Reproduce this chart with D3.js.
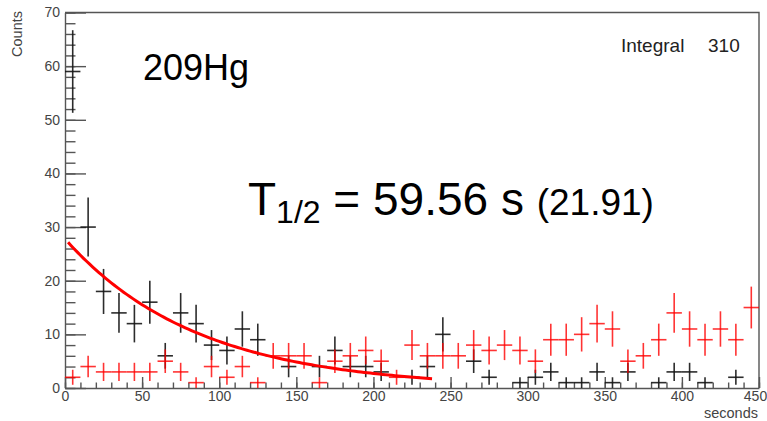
<!DOCTYPE html>
<html>
<head>
<meta charset="utf-8">
<script src="https://cdn.jsdelivr.net/npm/d3@7"></script>
<style>
  body { margin: 0; background: #fff; }
  svg { display: block; font-family: "Liberation Sans", Arial, sans-serif; }
</style>
</head>
<body>
<svg id="chart" width="767" height="421"></svg>
<script>
"use strict";

// 10 s bins, centre of each bin (seconds)
const binCentres = [5,15,25,35,45,55,65,75,85,95,105,115,125,135,145,155,165,175,185,195,
                    205,215,225,235,245,255,265,275,285,295,305,315,325,335,345,355,365,375,
                    385,395,405,415,425,435,445];
const binWidth = 10;

// black histogram (209Hg decay data)
const blackCounts = [59,30,18,14,12,16,6,14,12,8,7,11,9,0,4,0,4,7,4,4,
                     3,0,2,4,10,0,5,2,0,1,2,3,1,1,3,1,3,0,1,3,3,1,0,2,0];
const blackErrors = [7.7,5.5,4.2,3.7,3.5,4,2.4,3.7,3.5,2.8,2.6,3.3,3,0,2,0,2,2.6,2,2,
                     1.7,0,1.4,2,3.2,0,2.2,1.4,0,1,1.4,1.7,1,1,1.7,1,1.7,0,1,1.7,1.7,1,0,1.4,0];

// red histogram
const redCounts = [2,4,3,3,3,3,5,3,1,4,2,4,1,6,6,6,1,5,6,7,
                   5,2,8,6,6,6,8,7,8,7,5,9,9,10,12,11,5,6,9,14,11,9,11,9,15];
const redErrors = [1.4,2,1.7,1.7,1.7,1.7,2.2,1.7,1,2,1.4,2,1,2.4,2.4,2.4,1,2.2,2.4,2.6,
                   2.2,1.4,2.8,2.4,2.4,2.4,2.8,2.6,2.8,2.6,2.2,3,3,3.2,3.5,3.3,2.2,2.4,3,3.7,
                   3.3,3,3.3,3,3.9];

const xTicks = [0,50,100,150,200,250,300,350,400,450];
const yTicks = [0,10,20,30,40,50,60,70];

// exponential fit
const fitAmplitude = 27.8;
const fitHalfLife = 59.56;
const fitRange = [2, 238];

const svg = d3.select("#chart");
const x = d3.scaleLinear().domain([0, 450]).range([65, 759]);
const y = d3.scaleLinear().domain([0, 70]).range([388, 12.5]);

const axisColor = "#555";
const labelColor = "#444";

// frame (top and right)
svg.append("path")
  .attr("d", `M${x(0)},${y(70)}H${x(450)}V${y(0)}`)
  .attr("fill", "none")
  .attr("stroke", axisColor)
  .attr("stroke-width", 1.4);

// x axis, minor then major ticks pointing up
const xMinor = d3.range(0, 451, 10);
svg.append("g")
  .attr("transform", `translate(0,${y(0)})`)
  .call(d3.axisBottom(x).tickValues(xMinor).tickSize(-5.5).tickFormat(""))
  .call(g => g.select(".domain").remove());

const gx = svg.append("g")
  .attr("transform", `translate(0,${y(0)})`)
  .call(d3.axisBottom(x).tickValues(xTicks).tickSizeInner(-11).tickSizeOuter(0).tickPadding(3));
// last label sits inside the window like in the original
gx.selectAll(".tick text").filter(d => d === 450).attr("dx", -4);

// y axis
const yMinor = d3.range(0, 71, 2);
svg.append("g")
  .attr("transform", `translate(${x(0)},0)`)
  .call(d3.axisLeft(y).tickValues(yMinor).tickSize(-10.5).tickFormat(""))
  .call(g => g.select(".domain").remove());

const gy = svg.append("g")
  .attr("transform", `translate(${x(0)},0)`)
  .call(d3.axisLeft(y).tickValues(yTicks).tickSizeInner(-21).tickSizeOuter(0).tickPadding(5));

svg.selectAll(".tick line, .domain")
  .attr("stroke", axisColor)
  .attr("stroke-width", 1.4);
svg.selectAll(".tick text")
  .attr("fill", labelColor)
  .style("font-size", "14px")
  .style("font-family", "'Liberation Sans', Arial, sans-serif");

// axis titles
svg.append("text")
  .attr("x", 758).attr("y", 418)
  .attr("text-anchor", "end")
  .attr("fill", labelColor)
  .style("font-size", "14.5px")
  .text("seconds");

svg.append("text")
  .attr("transform", "translate(22,11) rotate(-90)")
  .attr("text-anchor", "end")
  .attr("fill", labelColor)
  .style("font-size", "14.5px")
  .text("Counts");

// error-bar crosses
function drawHist(counts, errors, colour, opacity) {
  const data = binCentres.map((c, i) => ({c: c, v: counts[i], e: errors[i]}))
    .filter(d => d.v > 0);
  const g = svg.append("g")
    .attr("stroke", colour)
    .attr("stroke-width", 1.6)
    .attr("stroke-opacity", opacity);
  g.selectAll("line.h")
    .data(data)
    .enter().append("line")
      .attr("class", "h")
      .attr("x1", d => x(d.c - binWidth / 2))
      .attr("x2", d => x(d.c + binWidth / 2))
      .attr("y1", d => y(d.v))
      .attr("y2", d => y(d.v));
  g.selectAll("line.v")
    .data(data)
    .enter().append("line")
      .attr("class", "v")
      .attr("x1", d => x(d.c))
      .attr("x2", d => x(d.c))
      .attr("y1", d => y(Math.max(0, d.v - d.e)))
      .attr("y2", d => y(d.v + d.e));
}

drawHist(blackCounts, blackErrors, "#151515", 0.9);
drawHist(redCounts, redErrors, "#ff0000", 0.8);

// fit curve
const lambda = Math.LN2 / fitHalfLife;
const fitPts = d3.range(fitRange[0], fitRange[1] + 0.5, 2);
svg.append("path")
  .datum(fitPts)
  .attr("fill", "none")
  .attr("stroke", "#ff0000")
  .attr("stroke-width", 3)
  .attr("d", d3.line()
    .x(t => x(t))
    .y(t => y(fitAmplitude * Math.exp(-lambda * t))));

// annotations
svg.append("text")
  .attr("x", 143).attr("y", 80)
  .attr("fill", "#000")
  .style("font-size", "36px")
  .text("209Hg");

const tHalf = svg.append("text")
  .attr("x", 248).attr("y", 215)
  .attr("fill", "#000")
  .style("font-size", "46px");
tHalf.append("tspan").text("T");
tHalf.append("tspan").attr("dy", 8).style("font-size", "32px").text("1/2");
tHalf.append("tspan").attr("dy", -8).text(" = 59.56 s ");
tHalf.append("tspan").style("font-size", "37px").text("(21.91)");

svg.append("text")
  .attr("x", 621).attr("y", 52)
  .attr("fill", "#222")
  .style("font-size", "19px")
  .text("Integral");
svg.append("text")
  .attr("x", 708).attr("y", 52)
  .attr("fill", "#222")
  .style("font-size", "19px")
  .text("310");
</script>
</body>
</html>
